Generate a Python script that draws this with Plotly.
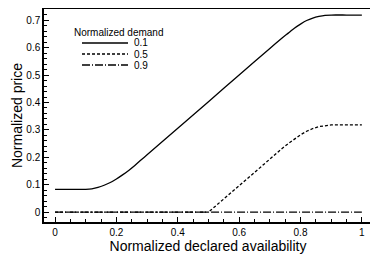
import plotly.graph_objects as go

# Data
x_d01 = [0.00, 0.05, 0.10, 0.12, 0.14, 0.16, 0.18, 0.20, 0.22, 0.24, 0.26, 0.28, 0.30,
         0.40, 0.50, 0.60, 0.70, 0.74, 0.76, 0.78, 0.80, 0.82, 0.84, 0.86, 0.88, 0.90, 0.95, 1.00]
y_d01 = [0.083, 0.083, 0.083, 0.085, 0.090, 0.098, 0.108, 0.121, 0.136, 0.152, 0.170, 0.190, 0.209,
         0.306, 0.403, 0.500, 0.597, 0.635, 0.653, 0.671, 0.686, 0.699, 0.708, 0.714, 0.718, 0.719, 0.719, 0.719]

x_d05 = [0.00, 0.50, 0.55, 0.60, 0.65, 0.70, 0.74, 0.76, 0.78, 0.80, 0.82, 0.84, 0.86, 0.88, 0.90, 0.95, 1.00]
y_d05 = [0.000, 0.000, 0.048, 0.097, 0.146, 0.194, 0.232, 0.250, 0.267, 0.282, 0.295, 0.305, 0.312, 0.316, 0.318, 0.318, 0.318]

x_d09 = [0.00, 1.00]
y_d09 = [0.000, 0.000]

series_names = ["0.1", "0.5", "0.9"]
legend_title = "Normalized demand"
x_ticks = [0, 0.2, 0.4, 0.6, 0.8, 1]
x_tick_labels = ["0", "0.2", "0.4", "0.6", "0.8", "1"]
y_ticks = [0, 0.1, 0.2, 0.3, 0.4, 0.5, 0.6, 0.7]
y_tick_labels = ["0", "0.1", "0.2", "0.3", "0.4", "0.5", "0.6", "0.7"]

FONT = "Liberation Sans, Arial, Helvetica, sans-serif"
dashes = ["solid", "3px,2px", "8px,2px,1px,2px"]
shapes = ["spline", "linear", "linear"]

fig = go.Figure()
for xs, ys, name, dash, shp in zip([x_d01, x_d05, x_d09], [y_d01, y_d05, y_d09], series_names, dashes, shapes):
    line = dict(color="black", width=1.3, dash=dash, shape=shp)
    if shp == "spline":
        line["smoothing"] = 0.6
    fig.add_trace(go.Scatter(x=xs, y=ys, mode="lines", name=name, showlegend=False, line=line))

axis_common = dict(
    showline=True, linecolor="black", linewidth=1.5, mirror=True,
    ticks="inside", ticklen=5, tickwidth=1, tickcolor="black",
    showgrid=False, zeroline=False, automargin=False,
    tickfont=dict(family=FONT, size=10, color="black"),
)

fig.update_xaxes(range=[-0.036, 1.033], tickvals=x_ticks, ticktext=x_tick_labels,
                 minor=dict(dtick=0.05, ticks="inside", ticklen=3, tickcolor="black", showgrid=False),
                 title=dict(text="Normalized declared availability", font=dict(family=FONT, size=14, color="black"),
                            standoff=2),
                 **axis_common)
fig.update_yaxes(range=[-0.036, 0.741], tickvals=y_ticks, ticktext=y_tick_labels,
                 minor=dict(dtick=0.02, ticks="inside", ticklen=3, tickcolor="black", showgrid=False),
                 title=dict(text="Normalized price", font=dict(family=FONT, size=14, color="black"),
                            standoff=0),
                 **axis_common)

# Legend block in paper coordinates (compact spacing as in the reference)
L, R, T, B = 44, 372, 9, 222  # plot area in page pixels
def px(x):
    return (x - L) / (R - L)
def py(y):
    return (B - y) / (B - T)

fig.add_annotation(x=px(72), y=py(32), xref="paper", yref="paper", text=legend_title,
                   showarrow=False, xanchor="left", yanchor="middle",
                   font=dict(family=FONT, size=10, color="black"))
for i, (name, dash) in enumerate(zip(series_names, dashes)):
    yy = 43 + 11 * i
    fig.add_shape(type="line", xref="paper", yref="paper", x0=px(82), x1=px(128), y0=py(yy), y1=py(yy),
                  line=dict(color="black", width=1.3, dash=dash))
    fig.add_annotation(x=px(132), y=py(yy), xref="paper", yref="paper", text=name,
                       showarrow=False, xanchor="left", yanchor="middle",
                       font=dict(family=FONT, size=10, color="black"))

# the page body has an 8px default margin, so the figure is sized to fit the 378x267 window
fig.update_layout(
    width=370, height=259,
    margin=dict(l=36, r=6, t=1, b=45),
    paper_bgcolor="white", plot_bgcolor="white",
    font=dict(family=FONT, size=10, color="black"),
    showlegend=False,
)

fig.write_html("out.html")
